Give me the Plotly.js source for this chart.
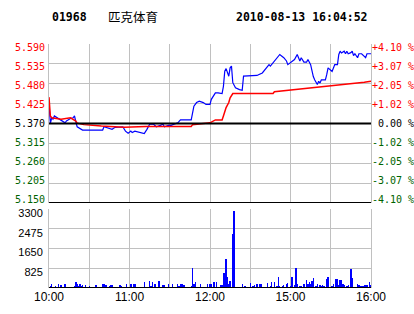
<!DOCTYPE html>
<html>
<head>
<meta charset="utf-8">
<script src="https://cdn.plot.ly/plotly-3.0.1.min.js"></script>
<style>
html,body{margin:0;padding:0;background:#fff;}
#chart{width:414px;height:314px;}
</style>
</head>
<body>
<div id="chart"></div>
<script>
// ---- data ----
const stockCode = '01968';
const stockName = '匹克体育';
const stampText = '2010-08-13 16:04:52';
const prevClose = 5.370;

// minutes from session start (10:00-12:30, 14:30-16:00)
const timeTicks = [0, 30, 60, 90, 120, 150, 180, 210, 240];
const timeLabels = ['10:00', '', '11:00', '', '12:00', '', '15:00', '', '16:00'];

const priceTicks = [5.150, 5.205, 5.260, 5.315, 5.370, 5.425, 5.480, 5.535, 5.590];
const priceLabels = ['5.150', '5.205', '5.260', '5.315', '5.370', '5.425', '5.480', '5.535', '5.590'];
const pctLabels = ['-4.10 %', '-3.07 %', '-2.05 %', '-1.02 %', '\u00a00.00 %', '+1.02 %', '+2.05 %', '+3.07 %', '+4.10 %'];

const volTicks = [0, 825, 1650, 2475, 3300];
const volLabels = ['', '825', '1650', '2475', '3300'];

const priceMin = [
  0, 1, 2, 3, 4, 6, 7, 9, 12, 13,
  15, 16, 18, 19, 20, 21, 25, 40, 41, 47,
  49, 53, 55, 57, 59, 61, 62, 64, 66, 69,
  71, 73, 75, 78, 80, 83, 85, 86, 89, 91,
  94, 96, 98, 106, 108, 110, 112, 115, 117, 120,
  121, 124, 126, 129, 130, 131, 132, 134, 135, 136,
  137, 139, 142, 144, 145, 155, 159, 161, 164, 165,
  167, 170, 172, 175, 177, 178, 181, 183, 185, 186,
  187, 188, 190, 192, 193, 195, 196, 197, 198, 200,
  201, 202, 203, 206, 207, 208, 211, 212, 213, 215,
  216, 217, 218, 220, 221, 222, 223, 225, 226, 227,
  228, 230, 231, 233, 236, 237, 240];
const priceVal = [
  5.428, 5.370, 5.386, 5.382, 5.391, 5.386, 5.384, 5.377, 5.372, 5.377,
  5.382, 5.384, 5.386, 5.391, 5.375, 5.361, 5.352, 5.352, 5.361, 5.354,
  5.359, 5.361, 5.361, 5.349, 5.343, 5.349, 5.345, 5.349, 5.347, 5.345,
  5.342, 5.354, 5.368, 5.368, 5.361, 5.365, 5.368, 5.361, 5.365, 5.365,
  5.368, 5.372, 5.380, 5.380, 5.418, 5.428, 5.432, 5.428, 5.423, 5.423,
  5.437, 5.455, 5.455, 5.453, 5.473, 5.515, 5.522, 5.501, 5.524, 5.529,
  5.483, 5.469, 5.464, 5.462, 5.501, 5.503, 5.510, 5.520, 5.533, 5.529,
  5.538, 5.552, 5.561, 5.552, 5.543, 5.533, 5.540, 5.547, 5.561, 5.552,
  5.543, 5.552, 5.540, 5.540, 5.547, 5.533, 5.510, 5.500, 5.491, 5.478,
  5.487, 5.482, 5.491, 5.491, 5.505, 5.524, 5.514, 5.524, 5.533, 5.533,
  5.561, 5.570, 5.565, 5.570, 5.563, 5.570, 5.563, 5.566, 5.570, 5.558,
  5.563, 5.552, 5.563, 5.563, 5.552, 5.563, 5.563];

const avgMin = [0, 1, 2, 9, 16, 20, 21, 26, 39, 56,
  72, 106, 107, 113, 120, 124, 129, 130, 132, 134,
  135, 137, 167, 168, 176, 182, 190, 199, 211, 222,
  235, 240];
const avgVal = [5.443, 5.391, 5.386, 5.382, 5.386, 5.377, 5.371, 5.367, 5.363, 5.360,
  5.362, 5.362, 5.367, 5.369, 5.372, 5.380, 5.380, 5.391, 5.414, 5.428,
  5.441, 5.453, 5.453, 5.458, 5.461, 5.463, 5.466, 5.470, 5.474, 5.479,
  5.484, 5.487];

const volMin = [
  1, 2, 5, 7, 9, 12, 19, 20, 21, 22,
  23, 24, 25, 27, 30, 35, 40, 41, 42, 43,
  45, 46, 47, 53, 54, 58, 61, 63, 64, 71,
  75, 76, 77, 79, 82, 85, 86, 89, 92, 96,
  97, 98, 99, 100, 101, 106, 107, 108, 109, 113,
  118, 120, 121, 123, 125, 128, 129, 130, 131, 132,
  133, 134, 135, 137, 138, 144, 146, 150, 152, 153,
  155, 157, 158, 163, 165, 166, 168, 170, 171, 172,
  174, 175, 177, 178, 180, 181, 183, 184, 185, 187,
  188, 190, 192, 193, 194, 195, 196, 197, 199, 200,
  202, 203, 204, 205, 207, 208, 211, 212, 214, 215,
  216, 217, 218, 219, 220, 222, 223, 225, 226, 230,
  231, 232, 233, 234, 235, 236, 237, 239, 240];
const volVal = [
  100, 180, 100, 180, 140, 180, 100, 265, 180, 100,
  180, 100, 140, 140, 100, 140, 180, 180, 140, 140,
  100, 140, 140, 140, 100, 180, 180, 180, 180, 265,
  306, 100, 265, 180, 306, 140, 140, 180, 180, 180,
  100, 180, 180, 140, 140, 100, 850, 180, 265, 180,
  180, 180, 180, 265, 265, 140, 140, 641, 641, 1226,
  474, 180, 306, 2270, 3230, 180, 100, 223, 100, 140,
  180, 180, 180, 223, 100, 265, 265, 100, 474, 100,
  100, 140, 180, 223, 100, 474, 140, 850, 180, 100,
  100, 180, 348, 180, 265, 180, 306, 432, 100, 180,
  140, 100, 140, 100, 390, 474, 100, 180, 390, 390,
  140, 348, 348, 180, 140, 100, 140, 808, 432, 180,
  140, 100, 100, 100, 140, 140, 140, 265, 140];

// ---- styling ----
const RED = '#ff0000', GREEN = '#006400', BLUE = '#0000ff', GRID = '#c0c0c0';
function levelColor(p) {
  if (Math.abs(p - prevClose) < 1e-9) return '#000000';
  return p > prevClose ? RED : GREEN;
}
const priceText = priceLabels.map((t, i) => '<span style="color:' + levelColor(priceTicks[i]) + '">' + t + '</span>');
const pctTicks = priceTicks.map(p => (p - prevClose) / prevClose * 100);
const pctText = pctLabels.map((t, i) => '<span style="color:' + levelColor(priceTicks[i]) + '">' + t + '</span>');

// label axes are slightly stretched so labels sit a little inside the panel edges, as in the original
const labelStretch = 1.045;
const halfSpan = (priceTicks[priceTicks.length - 1] - priceTicks[0]) / 2;
const labelPriceRange = [prevClose - halfSpan * labelStretch, prevClose + halfSpan * labelStretch];
const pctHalf = pctTicks[pctTicks.length - 1];
const labelPctRange = [-pctHalf * labelStretch, pctHalf * labelStretch];

const traces = [
  {x: priceMin, y: priceVal, xaxis: 'x2', yaxis: 'y', type: 'scatter', mode: 'lines',
   line: {color: BLUE, width: 1.2}, hoverinfo: 'skip'},
  {x: avgMin, y: avgVal, xaxis: 'x2', yaxis: 'y', type: 'scatter', mode: 'lines',
   line: {color: RED, width: 1.5}, hoverinfo: 'skip'},
  {x: [0, 240], y: [prevClose, prevClose], xaxis: 'x2', yaxis: 'y4', type: 'scatter', mode: 'lines',
   line: {color: 'rgba(0,0,0,0)', width: 0}, hoverinfo: 'skip'},
  {x: [0, 240], y: [0, 0], xaxis: 'x2', yaxis: 'y2', type: 'scatter', mode: 'lines',
   line: {color: 'rgba(0,0,0,0)', width: 0}, hoverinfo: 'skip'},
  {x: volMin, y: volVal, xaxis: 'x', yaxis: 'y3', type: 'bar', width: 1,
   marker: {color: BLUE, line: {width: 0}}, hoverinfo: 'skip'}
];

const monoFont = {family: 'DejaVu Sans Mono', size: 10, color: '#000'};
const sansFont = {family: 'Liberation Sans, Arial', size: 11, color: '#000'};

const layout = {
  width: 414, height: 314,
  margin: {l: 49, r: 43, t: 44, b: 26},
  paper_bgcolor: '#ffffff', plot_bgcolor: '#ffffff',
  showlegend: false,
  bargap: 0,
  xaxis: {
    domain: [0, 1], anchor: 'y3', range: [0, 240],
    tickmode: 'array', tickvals: timeTicks, ticktext: timeLabels,
    showgrid: true, gridcolor: GRID, gridwidth: 1,
    zeroline: false, showline: false,
    ticks: '', tickfont: {family: 'Liberation Sans, Arial', size: 12, color: '#000'},
    fixedrange: true, automargin: false
  },
  xaxis2: {
    domain: [0, 1], anchor: 'y', range: [0, 240], matches: 'x',
    tickmode: 'array', tickvals: timeTicks, showticklabels: false,
    showgrid: true, gridcolor: GRID, gridwidth: 1,
    zeroline: false, showline: false, ticks: '', automargin: false
  },
  yaxis: {
    domain: [0.348, 1], anchor: 'x2', range: [priceTicks[0], priceTicks[priceTicks.length - 1]],
    tickmode: 'array', tickvals: priceTicks, showticklabels: false,
    showgrid: true, gridcolor: GRID, gridwidth: 1,
    zeroline: false, showline: true, linecolor: GRID, linewidth: 1, mirror: true,
    ticks: '', automargin: false
  },
  yaxis4: {
    overlaying: 'y', side: 'left', anchor: 'x2', range: labelPriceRange,
    tickmode: 'array', tickvals: priceTicks, ticktext: priceText,
    showgrid: false, zeroline: false, showline: false,
    ticks: '', ticklabelstandoff: 3, tickfont: monoFont, automargin: false
  },
  yaxis2: {
    overlaying: 'y', side: 'right', anchor: 'x2', range: labelPctRange,
    tickmode: 'array', tickvals: pctTicks, ticktext: pctText,
    showgrid: false, zeroline: false,
    showline: false, ticks: '', ticklabelstandoff: 0, tickfont: monoFont, automargin: false
  },
  yaxis3: {
    domain: [0, 0.3238], anchor: 'x', range: [volTicks[0], volTicks[volTicks.length - 1]],
    tickmode: 'array', tickvals: volTicks, ticktext: volLabels,
    showgrid: true, gridcolor: GRID, gridwidth: 1,
    zeroline: false, showline: true, linecolor: GRID, linewidth: 1, mirror: true,
    ticks: '', ticklabelstandoff: 3, ticklabelshift: 4, tickfont: sansFont, automargin: false
  },
  shapes: [
    {type: 'line', xref: 'x2 domain', yref: 'y', x0: 0, x1: 1, y0: priceTicks[0], y1: priceTicks[0],
     line: {color: '#000', width: 2}},
    {type: 'line', xref: 'x2 domain', yref: 'y', x0: 0, x1: 1, y0: prevClose, y1: prevClose,
     line: {color: '#000', width: 2}},
    {type: 'line', xref: 'x domain', yref: 'y3', x0: 0, x1: 1, y0: 0, y1: 0,
     line: {color: '#000', width: 2}}
  ],
  annotations: [
    {text: '<b>' + stockCode + '</b>', xref: 'paper', yref: 'paper', x: 0.003, y: 1.111,
     xanchor: 'left', yanchor: 'middle', showarrow: false,
     font: {family: 'DejaVu Sans Mono', size: 11.5, color: '#000'}},
    {text: stockName, xref: 'paper', yref: 'paper', x: 0.177, y: 1.111,
     xanchor: 'left', yanchor: 'middle', showarrow: false,
     font: {family: 'Noto Sans CJK SC', size: 12.5, color: '#000'}},
    {text: '<b>' + stampText + '</b>', xref: 'paper', yref: 'paper', x: 0.997, y: 1.111,
     xanchor: 'right', yanchor: 'middle', showarrow: false,
     font: {family: 'DejaVu Sans Mono', size: 11.5, color: '#000'}}
  ]
};

Plotly.newPlot('chart', traces, layout, {staticPlot: true, displayModeBar: false});
</script>
</body>
</html>
